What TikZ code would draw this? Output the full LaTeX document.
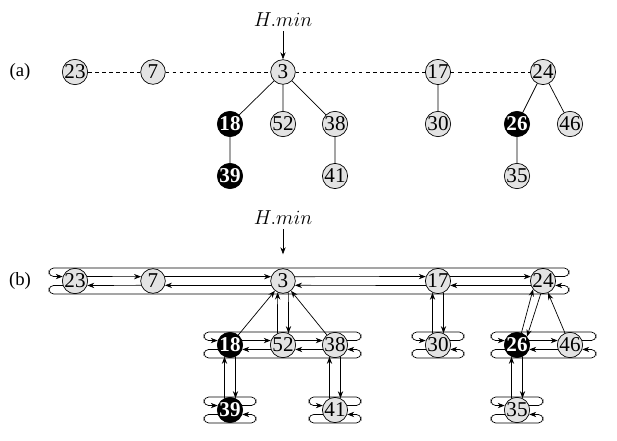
\documentclass[tikz,border=0pt]{standalone}
\usepackage{fontspec}
\setmainfont{Liberation Serif}
\usetikzlibrary{arrows.meta,calc}

\tikzset{
  every path/.style={line width=0.6pt},
  key/.style={circle,draw,fill=gray!22,minimum size=0.74cm,inner sep=0pt,font=\fontsize{18}{18}\selectfont},
  marked/.style={key,fill=black,text=white,font=\fontsize{18}{18}\selectfont\bfseries},
  ptr/.style={-{Stealth[length=6pt,width=4.5pt]}},
  rc/.style={rounded corners=4pt},
  lbl/.style={font=\fontsize{16}{16}\selectfont}
}
% circular list: first node, last node
\newcommand{\wrapring}[2]{%
  \path (#1.west) ++(-13,0) coordinate (L);
  \path (#2.east) ++(13,0) coordinate (R);
  \draw[ptr,rc] (#2.20) -- (#2.20 -| R) -- ($(R)+(0,13)$) -- ($(L)+(0,13)$) -- (#1.160 -| L) -- (#1.160);
  \draw[ptr,rc] (#1.200) -- (#1.200 -| L) -- ($(L)+(0,-13)$) -- ($(R)+(0,-13)$) -- (#2.340 -| R) -- (#2.340);
}
\newcommand{\sibs}[2]{%
  \draw[ptr] (#1.20) -- (#2.160);
  \draw[ptr] (#2.200) -- (#1.340);
}

\begin{document}
\begin{tikzpicture}[x=0.03cm,y=0.03cm]
\useasboundingbox (0,0) rectangle (617,440);

% (a) the heap
\node[lbl] at (20,368) {(a)};
\foreach \n/\x/\y/\s in {23/75/368/key,7/153/368/key,3/283/368/key,17/438/368/key,24/543/368/key,
  18/230/316/marked,52/283/316/key,38/335/316/key,30/438/316/key,26/517/316/marked,46/570/316/key,
  39/230/264/marked,41/335/264/key,35/517/264/key}{
  \node[\s] (a\n) at (\x,\y) {\n};
}
\node[lbl] (amin) at (283,420) {$H.min$};
\draw[ptr] (amin) -- (a3);
\draw[dashed] (a23) -- (a7) -- (a3) -- (a17) -- (a24);
\draw (a3) -- (a18) (a3) -- (a52) (a3) -- (a38) (a17) -- (a30)
  (a24) -- (a26) (a24) -- (a46) (a18) -- (a39) (a38) -- (a41) (a26) -- (a35);

% (b) with pointers
\node[lbl] at (20,159) {(b)};
\foreach \n/\x/\y/\s in {23/75/159/key,7/153/159/key,3/283/159/key,17/438/159/key,24/543/159/key,
  18/230/95/marked,52/283/95/key,38/335/95/key,30/438/95/key,26/517/95/marked,46/570/95/key,
  39/230/30/marked,41/335/30/key,35/517/30/key}{
  \node[\s] (b\n) at (\x,\y) {\n};
}
\node[lbl] (bmin) at (283,222) {$H.min$};
\draw[ptr] (bmin) -- ($(b3.north)+(0,14)$);

\sibs{b23}{b7} \sibs{b7}{b3} \sibs{b3}{b17} \sibs{b17}{b24}
\wrapring{b23}{b24}
\sibs{b18}{b52} \sibs{b52}{b38}
\wrapring{b18}{b38}
\wrapring{b30}{b30}
\sibs{b26}{b46}
\wrapring{b26}{b46}
\wrapring{b39}{b39}
\wrapring{b41}{b41}
\wrapring{b35}{b35}

% parent and child pointers
\draw[ptr] (b18) -- (b3);
\draw[ptr] (b38) -- (b3);
\draw[ptr] (b52.115) -- (b3.245);
\draw[ptr] (b3.295) -- (b52.65);
\draw[ptr] (b30.115) -- (b17.245);
\draw[ptr] (b17.295) -- (b30.65);
\draw[ptr] (b39.115) -- (b18.245);
\draw[ptr] (b18.295) -- (b39.65);
\draw[ptr] (b41.115) -- (b38.245);
\draw[ptr] (b38.295) -- (b41.65);
\draw[ptr] (b35.115) -- (b26.245);
\draw[ptr] (b26.295) -- (b35.65);
\draw[ptr] (b26.70) -- (b24.220);
\draw[ptr] (b24.260) -- (b26.40);
\draw[ptr] (b46) -- (b24);
\end{tikzpicture}
\end{document}
